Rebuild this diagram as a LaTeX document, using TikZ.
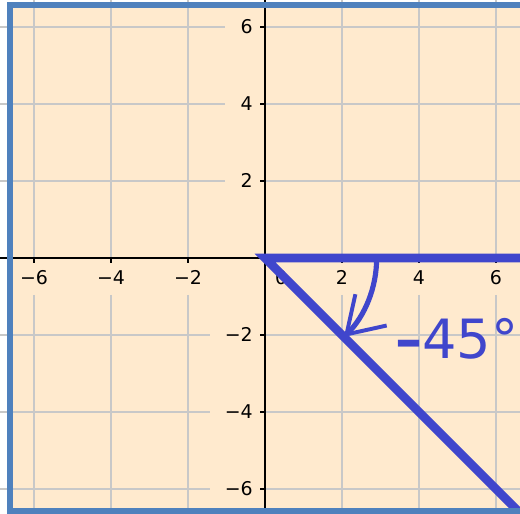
\documentclass[tikz,border=0pt]{standalone}
\usepackage{fontspec}
\setmainfont{DejaVu Sans}
\usetikzlibrary{arrows.meta}
\definecolor{paper}{RGB}{255,234,206}
\definecolor{gridgray}{RGB}{200,200,200}
\definecolor{rayblue}{RGB}{64,70,204}
\definecolor{frameblue}{RGB}{79,129,189}

\begin{document}
\begin{tikzpicture}[
        axis/.style={line width=2pt, black},
        gridline/.style={line width=1.2pt, gridgray},
        tickmark/.style={line width=1.5pt, black},
        ticklabel/.style={font=\fontsize{14}{16}\selectfont, inner sep=0pt},
        ray/.style={line width=6.3pt, rayblue},
        anglearrow/.style={line width=3.8pt, rayblue, -{Straight Barb[length=0.9cm, width=1.15cm, line width=2.9pt]}},
        anglelabel/.style={font=\fontsize{40}{42}\selectfont, text=rayblue, inner sep=0pt},
        frame/.style={line width=4.4pt, frameblue}
    ]

    % Page
    \useasboundingbox (-6.883,-6.649) rectangle (6.623,6.701);
    \clip (-6.883,-6.649) rectangle (6.623,6.701);
    \fill[paper] (-6.62,-6.57) rectangle (7,6.58);

    % Grid (left open where the labels sit)
    \foreach \x in {-6,-4,-2,2,4,6} {
        \draw[gridline] (\x,0) -- (\x,6.8);
        \draw[gridline] (\x,-0.96) -- (\x,-6.8);
    }
    \foreach \y in {2,4,6} {
        \draw[gridline] (-6.9,\y) -- (-1.04,\y);
        \draw[gridline] (0,\y) -- (6.7,\y);
    }
    \foreach \y in {-2,-4,-6} {
        \draw[gridline] (-6.9,\y) -- (-1.43,\y);
        \draw[gridline] (0,\y) -- (6.7,\y);
    }

    % Axes
    \coordinate (O) at (0,0);
    \draw[axis] (-6.9,0) -- (6.7,0);
    \draw[axis] (0,-6.7) -- (0,6.8);

    % Ticks and labels
    \foreach \x/\t [count=\i] in {-6/−6, -4/−4, -2/−2, 2/2, 4/4, 6/6} {
        \draw[tickmark] (\x,0) -- (\x,-0.12);
        \node[ticklabel, anchor=base] (xlabel\i) at (\x,-0.70) {\t};
    }
    \foreach \y/\t [count=\i] in {-6/−6, -4/−4, -2/−2, 2/2, 4/4, 6/6} {
        \draw[tickmark] (0,\y) -- (-0.12,\y);
        \node[ticklabel, anchor=base east] (ylabel\i) at (-0.31,\y-0.18) {\t};
    }
    \node[ticklabel, anchor=base] (zero) at (0.42,-0.70) {0};

    % Angle of -45 degrees
    \coordinate (E) at (7,0);
    \coordinate (D) at (7,-7);
    \draw[ray] (E) -- (O) -- (D);
    \draw[anglearrow] (2.9,0) arc[start angle=0, end angle=-45, radius=2.9];
    \node[anglelabel, anchor=base west] (angle) at (3.38,-2.60) {\textbf{–}45°};

    % Frame
    \draw[frame] (-6.62,-6.57) rectangle (7.3,6.58);

\end{tikzpicture}
\end{document}
